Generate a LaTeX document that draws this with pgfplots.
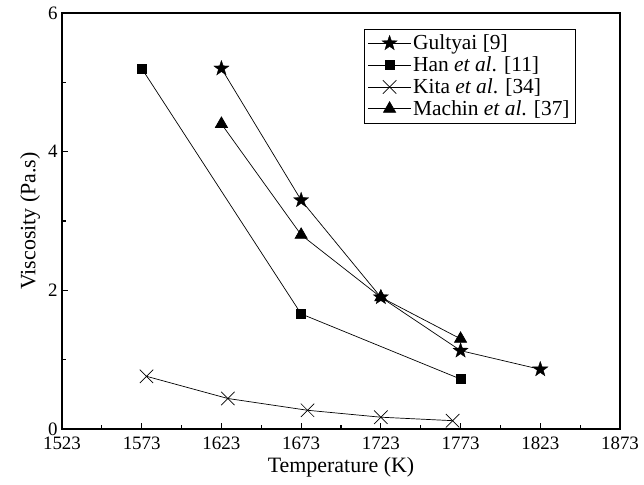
\documentclass[border=0pt]{standalone}
\usepackage{fontspec}
\setmainfont{Liberation Serif}
\usepackage{pgfplots}
\pgfplotsset{compat=1.18}
\pgfdeclareplotmark{fstar}{%
  \pgfpathmoveto{\pgfpointpolar{90}{\pgfplotmarksize}}%
  \pgfpathlineto{\pgfpointpolar{126}{0.4\pgfplotmarksize}}%
  \pgfpathlineto{\pgfpointpolar{162}{\pgfplotmarksize}}%
  \pgfpathlineto{\pgfpointpolar{198}{0.4\pgfplotmarksize}}%
  \pgfpathlineto{\pgfpointpolar{234}{\pgfplotmarksize}}%
  \pgfpathlineto{\pgfpointpolar{270}{0.4\pgfplotmarksize}}%
  \pgfpathlineto{\pgfpointpolar{306}{\pgfplotmarksize}}%
  \pgfpathlineto{\pgfpointpolar{342}{0.4\pgfplotmarksize}}%
  \pgfpathlineto{\pgfpointpolar{18}{\pgfplotmarksize}}%
  \pgfpathlineto{\pgfpointpolar{54}{0.4\pgfplotmarksize}}%
  \pgfpathclose
  \pgfusepathqfillstroke
}
\begin{document}
\begin{tikzpicture}
\begin{axis}[
  name=ax,
  scale only axis,
  width=558bp, height=416bp,
  xmin=1523, xmax=1873, ymin=0, ymax=6,
  xtick={1523,1573,...,1873},
  ytick={0,2,4,6},
  minor x tick num=1,
  minor y tick num=1,
  tick align=inside,
  xtick pos=left, ytick pos=left,
  major tick length=6bp, minor tick length=4bp,
  tick style={line width=1.2pt, black},
  axis line style={line width=1.4pt},
  /pgf/number format/assume math mode=true,
  /pgf/number format/1000 sep={},
  xticklabel style={font=\fontsize{19}{22}\selectfont, yshift=-4bp},
  yticklabel style={font=\fontsize{19}{22}\selectfont, xshift=-1bp},
  xlabel={Temperature (K)},
  ylabel={Viscosity (Pa.s)},
  label style={font=\fontsize{22}{25}\selectfont},
  xlabel style={yshift=-1bp},
  ylabel style={yshift=1bp},
  legend style={at={(0.921,0.962)}, anchor=north east, draw=black, line width=0.6pt,
    font=\fontsize{21.5}{25}\selectfont, row sep=1.5bp, inner xsep=4bp, inner ysep=4bp},
  legend cell align=left,
  legend image code/.code={%
    \draw[mark repeat=2,mark phase=2] plot coordinates {(0cm,0cm) (0.75cm,0cm) (1.5cm,0cm)};},
  every axis plot/.append style={black, line width=0.7pt},
]
\addplot[mark=fstar, mark size=8bp, mark options={line width=0.3pt}] coordinates {
 (1623,5.2) (1673,3.3) (1723,1.9) (1773,1.13) (1823,0.86)};
\addlegendentry{Gultyai [9]}
\addplot[mark=square*, mark size=4.5bp] coordinates {
 (1573,5.2) (1673,1.66) (1773,0.72)};
\addlegendentry{Han \textit{et al}. [11]}
\addplot[mark=x, mark size=9.5bp, mark options={line width=0.7pt}] coordinates {
 (1576,0.76) (1627,0.44) (1677,0.27) (1723,0.17) (1768,0.12)};
\addlegendentry{Kita \textit{et al}. [34]}
\addplot[mark=triangle*, mark size=7bp] coordinates {
 (1623,4.4) (1673,2.8) (1723,1.9) (1773,1.3)};
\addlegendentry{Machin \textit{et al}. [37]}
\end{axis}
\pgfresetboundingbox
\path ([xshift=-62bp,yshift=-56bp]ax.south west) rectangle ([xshift=24bp,yshift=13bp]ax.north east);
\end{tikzpicture}
\end{document}
